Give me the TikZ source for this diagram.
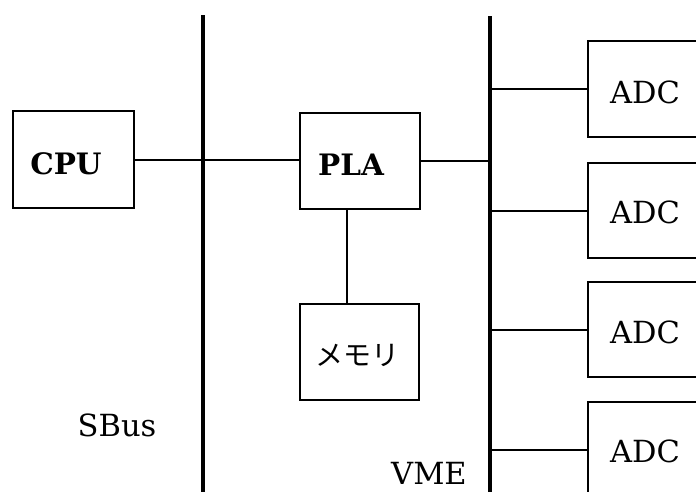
\documentclass[tikz,border=0pt]{standalone}
\usepackage{fontspec}
\setmainfont{DejaVu Serif}
\newfontfamily\cjk{Noto Sans CJK JP}
\begin{document}
\begin{tikzpicture}[x=1pt,y=-1pt,
  box/.style={draw,line width=2.4pt,inner sep=0pt,anchor=north west},
  bus/.style={line width=3.4pt},
  wire/.style={line width=2pt},
  lbl/.style={inner sep=0pt,anchor=base,font=\fontsize{30.5}{32}\selectfont},
  blbl/.style={inner sep=0pt,anchor=base,font=\fontsize{29.5}{31}\selectfont\bfseries}]
\useasboundingbox (0,0) rectangle (696,491);
\clip (0,0) rectangle (696,491);
% buses
\coordinate (sbtop) at (203,15);
\coordinate (sbbot) at (203,495);
\coordinate (vmetop) at (490,16);
\coordinate (vmebot) at (490,495);
\draw[bus] (sbtop) -- (sbbot);
\draw[bus] (vmetop) -- (vmebot);
% boxes
\node[box,minimum width=121pt,minimum height=97pt] (cpu) at (12,110) {};
\node[box,minimum width=120pt,minimum height=96pt] (pla) at (299,112) {};
\node[box,minimum width=119pt,minimum height=96pt] (mem) at (299,303) {};
\node[box,minimum width=150pt,minimum height=96pt] (adc1) at (587,40) {};
\node[box,minimum width=150pt,minimum height=95pt] (adc2) at (587,162) {};
\node[box,minimum width=150pt,minimum height=95pt] (adc3) at (587,281) {};
\node[box,minimum width=150pt,minimum height=96pt] (adc4) at (587,401) {};
% texts
\node[blbl] (tcpu) at (66,174) {CPU};
\node[blbl] (tpla) at (351,175) {PLA};
\node[inner sep=0pt,font=\cjk\fontsize{28}{30}\selectfont] (tmem) at (357,355) {メモリ};
\node[lbl] (ta1) at (645,103) {ADC};
\node[lbl] (ta2) at (645,223) {ADC};
\node[lbl] (ta3) at (645,343) {ADC};
\node[lbl] (ta4) at (645,462) {ADC};
\node[lbl] (tsbus) at (117,436) {SBus};
\node[lbl] (tvme) at (429,484) {VME};
% wires
\coordinate (mtop) at (347,208);
\draw[wire] (cpu.east) -- (cpu.east -| pla.west);
\draw[wire] (pla.east) -- (pla.east -| vmetop);
\draw[wire] (pla.south -| mtop) -- (mem.north -| mtop);
\draw[wire] (adc1.west -| vmetop) -- (adc1.west);
\draw[wire] (adc2.west -| vmetop) -- (adc2.west);
\draw[wire] (adc3.west -| vmetop) -- (adc3.west);
\draw[wire] (adc4.west -| vmetop) -- (adc4.west);
\end{tikzpicture}
\end{document}
